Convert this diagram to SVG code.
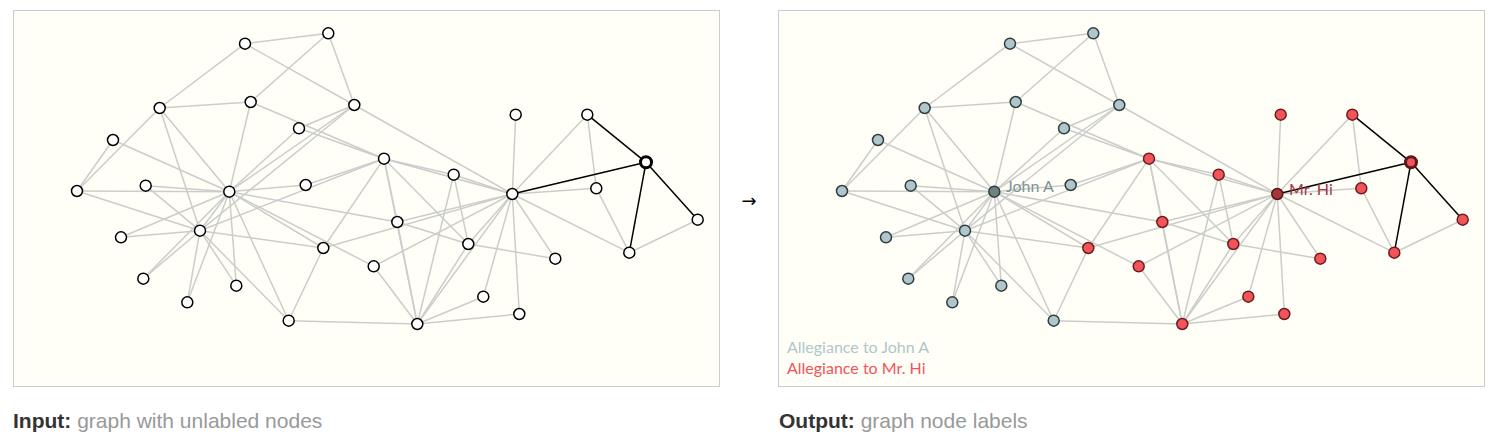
<svg xmlns="http://www.w3.org/2000/svg" width="1507" height="439" viewBox="0 0 1507 439">
<style>
.bg{fill:#ffffff}
.panel{fill:#fffff8;stroke:#cccccc;stroke-width:1}
.edges line{stroke:#cccccc;stroke-width:1.5}
.edges line.hl{stroke:#000000;stroke-width:1.5}
.in circle{fill:#ffffff;stroke:#000000;stroke-width:1.5}
.in.sel circle{stroke-width:3}
.blue circle{fill:#b0c6ca;stroke:#2e3d3f;stroke-width:1.5}
.red circle{fill:#f2545a;stroke:#6a1c1f;stroke-width:1.5}
.blue.lead circle{fill:#6e8283;stroke:#2e3d3f}
.red.lead circle{fill:#a3363a;stroke:#5a1518}
.red.sel circle{stroke:#5a1a1c;stroke-width:3}
.lbl{font-family:Lato,"Open Sans",sans-serif;font-size:16px}
.cap{font-family:"Liberation Sans",Arial,sans-serif;font-size:21px}
.capb{font-weight:bold;fill:#333333}
.capt{fill:#999999}
</style>
<rect class="bg" x="0" y="0" width="1507" height="439"/>
<rect class="panel" x="13.5" y="10.5" width="706" height="376"/>
<rect class="panel" x="778.5" y="10.5" width="706" height="376"/>

<g id="input-graph">
<g id="connectors-input" class="edges">
<line x1="512.3" y1="194" x2="417.3" y2="324"/>
<line x1="512.3" y1="194" x2="384" y2="158.7"/>
<line x1="512.3" y1="194" x2="468.3" y2="244"/>
<line x1="512.3" y1="194" x2="587.3" y2="114.7"/>
<line x1="512.3" y1="194" x2="629.3" y2="252.7"/>
<line x1="512.3" y1="194" x2="453.7" y2="174.7"/>
<line x1="512.3" y1="194" x2="323.3" y2="248"/>
<line x1="512.3" y1="194" x2="596.3" y2="188.3"/>
<line x1="512.3" y1="194" x2="515.7" y2="114.7"/>
<line x1="512.3" y1="194" x2="555.3" y2="258.7"/>
<line x1="512.3" y1="194" x2="397.3" y2="222"/>
<line x1="512.3" y1="194" x2="483.3" y2="296.7"/>
<line x1="512.3" y1="194" x2="373.7" y2="266.3"/>
<line x1="512.3" y1="194" x2="519.3" y2="314"/>
<line x1="512.3" y1="194" x2="354.3" y2="105"/>
<line x1="417.3" y1="324" x2="384" y2="158.7"/>
<line x1="417.3" y1="324" x2="468.3" y2="244"/>
<line x1="417.3" y1="324" x2="453.7" y2="174.7"/>
<line x1="417.3" y1="324" x2="397.3" y2="222"/>
<line x1="417.3" y1="324" x2="483.3" y2="296.7"/>
<line x1="417.3" y1="324" x2="373.7" y2="266.3"/>
<line x1="417.3" y1="324" x2="519.3" y2="314"/>
<line x1="417.3" y1="324" x2="288.7" y2="320.7"/>
<line x1="384" y1="158.7" x2="468.3" y2="244"/>
<line x1="384" y1="158.7" x2="453.7" y2="174.7"/>
<line x1="384" y1="158.7" x2="323.3" y2="248"/>
<line x1="384" y1="158.7" x2="305.7" y2="185"/>
<line x1="384" y1="158.7" x2="397.3" y2="222"/>
<line x1="384" y1="158.7" x2="250.7" y2="102"/>
<line x1="384" y1="158.7" x2="299" y2="128.3"/>
<line x1="384" y1="158.7" x2="200" y2="230.7"/>
<line x1="468.3" y1="244" x2="453.7" y2="174.7"/>
<line x1="468.3" y1="244" x2="555.3" y2="258.7"/>
<line x1="468.3" y1="244" x2="397.3" y2="222"/>
<line x1="587.3" y1="114.7" x2="596.3" y2="188.3"/>
<line x1="629.3" y1="252.7" x2="596.3" y2="188.3"/>
<line x1="629.3" y1="252.7" x2="697.7" y2="219.7"/>
<line x1="323.3" y1="248" x2="288.7" y2="320.7"/>
<line x1="323.3" y1="248" x2="200" y2="230.7"/>
<line x1="323.3" y1="248" x2="229.3" y2="191.7"/>
<line x1="305.7" y1="185" x2="229.3" y2="191.7"/>
<line x1="397.3" y1="222" x2="229.3" y2="191.7"/>
<line x1="121" y1="237.3" x2="200" y2="230.7"/>
<line x1="121" y1="237.3" x2="229.3" y2="191.7"/>
<line x1="143.3" y1="278.7" x2="200" y2="230.7"/>
<line x1="143.3" y1="278.7" x2="229.3" y2="191.7"/>
<line x1="187.3" y1="302.3" x2="200" y2="230.7"/>
<line x1="187.3" y1="302.3" x2="229.3" y2="191.7"/>
<line x1="373.7" y1="266.3" x2="229.3" y2="191.7"/>
<line x1="236.3" y1="285.7" x2="200" y2="230.7"/>
<line x1="236.3" y1="285.7" x2="229.3" y2="191.7"/>
<line x1="145.7" y1="185.7" x2="200" y2="230.7"/>
<line x1="145.7" y1="185.7" x2="229.3" y2="191.7"/>
<line x1="159.7" y1="108" x2="245" y2="43.7"/>
<line x1="159.7" y1="108" x2="250.7" y2="102"/>
<line x1="159.7" y1="108" x2="77" y2="191"/>
<line x1="159.7" y1="108" x2="200" y2="230.7"/>
<line x1="159.7" y1="108" x2="229.3" y2="191.7"/>
<line x1="328.3" y1="33.3" x2="245" y2="43.7"/>
<line x1="328.3" y1="33.3" x2="250.7" y2="102"/>
<line x1="328.3" y1="33.3" x2="354.3" y2="105"/>
<line x1="245" y1="43.7" x2="354.3" y2="105"/>
<line x1="113" y1="140" x2="77" y2="191"/>
<line x1="113" y1="140" x2="229.3" y2="191.7"/>
<line x1="250.7" y1="102" x2="229.3" y2="191.7"/>
<line x1="299" y1="128.3" x2="354.3" y2="105"/>
<line x1="299" y1="128.3" x2="229.3" y2="191.7"/>
<line x1="77" y1="191" x2="200" y2="230.7"/>
<line x1="77" y1="191" x2="229.3" y2="191.7"/>
<line x1="288.7" y1="320.7" x2="200" y2="230.7"/>
<line x1="288.7" y1="320.7" x2="229.3" y2="191.7"/>
<line x1="354.3" y1="105" x2="200" y2="230.7"/>
<line x1="354.3" y1="105" x2="229.3" y2="191.7"/>
<line x1="200" y1="230.7" x2="229.3" y2="191.7"/>
<line class="hl" x1="512.3" y1="194" x2="646" y2="162.3"/>
<line class="hl" x1="587.3" y1="114.7" x2="646" y2="162.3"/>
<line class="hl" x1="629.3" y1="252.7" x2="646" y2="162.3"/>
<line class="hl" x1="646" y1="162.3" x2="697.7" y2="219.7"/>
</g>
<g id="in-n0" class="in"><circle cx="512.3" cy="194" r="5.5"/></g>
<g id="in-n1" class="in"><circle cx="417.3" cy="324" r="5.5"/></g>
<g id="in-n2" class="in"><circle cx="384" cy="158.7" r="5.5"/></g>
<g id="in-n3" class="in"><circle cx="468.3" cy="244" r="5.5"/></g>
<g id="in-n4" class="in"><circle cx="587.3" cy="114.7" r="5.5"/></g>
<g id="in-n5" class="in"><circle cx="629.3" cy="252.7" r="5.5"/></g>
<g id="in-n6" class="in sel"><circle cx="646" cy="162.3" r="5.5"/></g>
<g id="in-n7" class="in"><circle cx="453.7" cy="174.7" r="5.5"/></g>
<g id="in-n8" class="in"><circle cx="323.3" cy="248" r="5.5"/></g>
<g id="in-n9" class="in"><circle cx="305.7" cy="185" r="5.5"/></g>
<g id="in-n10" class="in"><circle cx="596.3" cy="188.3" r="5.5"/></g>
<g id="in-n11" class="in"><circle cx="515.7" cy="114.7" r="5.5"/></g>
<g id="in-n12" class="in"><circle cx="555.3" cy="258.7" r="5.5"/></g>
<g id="in-n13" class="in"><circle cx="397.3" cy="222" r="5.5"/></g>
<g id="in-n14" class="in"><circle cx="121" cy="237.3" r="5.5"/></g>
<g id="in-n15" class="in"><circle cx="143.3" cy="278.7" r="5.5"/></g>
<g id="in-n16" class="in"><circle cx="697.7" cy="219.7" r="5.5"/></g>
<g id="in-n17" class="in"><circle cx="483.3" cy="296.7" r="5.5"/></g>
<g id="in-n18" class="in"><circle cx="187.3" cy="302.3" r="5.5"/></g>
<g id="in-n19" class="in"><circle cx="373.7" cy="266.3" r="5.5"/></g>
<g id="in-n20" class="in"><circle cx="236.3" cy="285.7" r="5.5"/></g>
<g id="in-n21" class="in"><circle cx="519.3" cy="314" r="5.5"/></g>
<g id="in-n22" class="in"><circle cx="145.7" cy="185.7" r="5.5"/></g>
<g id="in-n23" class="in"><circle cx="159.7" cy="108" r="5.5"/></g>
<g id="in-n24" class="in"><circle cx="328.3" cy="33.3" r="5.5"/></g>
<g id="in-n25" class="in"><circle cx="245" cy="43.7" r="5.5"/></g>
<g id="in-n26" class="in"><circle cx="113" cy="140" r="5.5"/></g>
<g id="in-n27" class="in"><circle cx="250.7" cy="102" r="5.5"/></g>
<g id="in-n28" class="in"><circle cx="299" cy="128.3" r="5.5"/></g>
<g id="in-n29" class="in"><circle cx="77" cy="191" r="5.5"/></g>
<g id="in-n30" class="in"><circle cx="288.7" cy="320.7" r="5.5"/></g>
<g id="in-n31" class="in"><circle cx="354.3" cy="105" r="5.5"/></g>
<g id="in-n32" class="in"><circle cx="200" cy="230.7" r="5.5"/></g>
<g id="in-n33" class="in"><circle cx="229.3" cy="191.7" r="5.5"/></g>
</g>

<g id="output-graph" transform="translate(765,0)">
<g id="connectors-output" class="edges">
<line x1="512.3" y1="194" x2="417.3" y2="324"/>
<line x1="512.3" y1="194" x2="384" y2="158.7"/>
<line x1="512.3" y1="194" x2="468.3" y2="244"/>
<line x1="512.3" y1="194" x2="587.3" y2="114.7"/>
<line x1="512.3" y1="194" x2="629.3" y2="252.7"/>
<line x1="512.3" y1="194" x2="453.7" y2="174.7"/>
<line x1="512.3" y1="194" x2="323.3" y2="248"/>
<line x1="512.3" y1="194" x2="596.3" y2="188.3"/>
<line x1="512.3" y1="194" x2="515.7" y2="114.7"/>
<line x1="512.3" y1="194" x2="555.3" y2="258.7"/>
<line x1="512.3" y1="194" x2="397.3" y2="222"/>
<line x1="512.3" y1="194" x2="483.3" y2="296.7"/>
<line x1="512.3" y1="194" x2="373.7" y2="266.3"/>
<line x1="512.3" y1="194" x2="519.3" y2="314"/>
<line x1="512.3" y1="194" x2="354.3" y2="105"/>
<line x1="417.3" y1="324" x2="384" y2="158.7"/>
<line x1="417.3" y1="324" x2="468.3" y2="244"/>
<line x1="417.3" y1="324" x2="453.7" y2="174.7"/>
<line x1="417.3" y1="324" x2="397.3" y2="222"/>
<line x1="417.3" y1="324" x2="483.3" y2="296.7"/>
<line x1="417.3" y1="324" x2="373.7" y2="266.3"/>
<line x1="417.3" y1="324" x2="519.3" y2="314"/>
<line x1="417.3" y1="324" x2="288.7" y2="320.7"/>
<line x1="384" y1="158.7" x2="468.3" y2="244"/>
<line x1="384" y1="158.7" x2="453.7" y2="174.7"/>
<line x1="384" y1="158.7" x2="323.3" y2="248"/>
<line x1="384" y1="158.7" x2="305.7" y2="185"/>
<line x1="384" y1="158.7" x2="397.3" y2="222"/>
<line x1="384" y1="158.7" x2="250.7" y2="102"/>
<line x1="384" y1="158.7" x2="299" y2="128.3"/>
<line x1="384" y1="158.7" x2="200" y2="230.7"/>
<line x1="468.3" y1="244" x2="453.7" y2="174.7"/>
<line x1="468.3" y1="244" x2="555.3" y2="258.7"/>
<line x1="468.3" y1="244" x2="397.3" y2="222"/>
<line x1="587.3" y1="114.7" x2="596.3" y2="188.3"/>
<line x1="629.3" y1="252.7" x2="596.3" y2="188.3"/>
<line x1="629.3" y1="252.7" x2="697.7" y2="219.7"/>
<line x1="323.3" y1="248" x2="288.7" y2="320.7"/>
<line x1="323.3" y1="248" x2="200" y2="230.7"/>
<line x1="323.3" y1="248" x2="229.3" y2="191.7"/>
<line x1="305.7" y1="185" x2="229.3" y2="191.7"/>
<line x1="397.3" y1="222" x2="229.3" y2="191.7"/>
<line x1="121" y1="237.3" x2="200" y2="230.7"/>
<line x1="121" y1="237.3" x2="229.3" y2="191.7"/>
<line x1="143.3" y1="278.7" x2="200" y2="230.7"/>
<line x1="143.3" y1="278.7" x2="229.3" y2="191.7"/>
<line x1="187.3" y1="302.3" x2="200" y2="230.7"/>
<line x1="187.3" y1="302.3" x2="229.3" y2="191.7"/>
<line x1="373.7" y1="266.3" x2="229.3" y2="191.7"/>
<line x1="236.3" y1="285.7" x2="200" y2="230.7"/>
<line x1="236.3" y1="285.7" x2="229.3" y2="191.7"/>
<line x1="145.7" y1="185.7" x2="200" y2="230.7"/>
<line x1="145.7" y1="185.7" x2="229.3" y2="191.7"/>
<line x1="159.7" y1="108" x2="245" y2="43.7"/>
<line x1="159.7" y1="108" x2="250.7" y2="102"/>
<line x1="159.7" y1="108" x2="77" y2="191"/>
<line x1="159.7" y1="108" x2="200" y2="230.7"/>
<line x1="159.7" y1="108" x2="229.3" y2="191.7"/>
<line x1="328.3" y1="33.3" x2="245" y2="43.7"/>
<line x1="328.3" y1="33.3" x2="250.7" y2="102"/>
<line x1="328.3" y1="33.3" x2="354.3" y2="105"/>
<line x1="245" y1="43.7" x2="354.3" y2="105"/>
<line x1="113" y1="140" x2="77" y2="191"/>
<line x1="113" y1="140" x2="229.3" y2="191.7"/>
<line x1="250.7" y1="102" x2="229.3" y2="191.7"/>
<line x1="299" y1="128.3" x2="354.3" y2="105"/>
<line x1="299" y1="128.3" x2="229.3" y2="191.7"/>
<line x1="77" y1="191" x2="200" y2="230.7"/>
<line x1="77" y1="191" x2="229.3" y2="191.7"/>
<line x1="288.7" y1="320.7" x2="200" y2="230.7"/>
<line x1="288.7" y1="320.7" x2="229.3" y2="191.7"/>
<line x1="354.3" y1="105" x2="200" y2="230.7"/>
<line x1="354.3" y1="105" x2="229.3" y2="191.7"/>
<line x1="200" y1="230.7" x2="229.3" y2="191.7"/>
<line class="hl" x1="512.3" y1="194" x2="646" y2="162.3"/>
<line class="hl" x1="587.3" y1="114.7" x2="646" y2="162.3"/>
<line class="hl" x1="629.3" y1="252.7" x2="646" y2="162.3"/>
<line class="hl" x1="646" y1="162.3" x2="697.7" y2="219.7"/>
</g>
<g id="out-n0" class="red lead"><circle cx="512.3" cy="194" r="5.5"/></g>
<g id="out-n1" class="red"><circle cx="417.3" cy="324" r="5.5"/></g>
<g id="out-n2" class="red"><circle cx="384" cy="158.7" r="5.5"/></g>
<g id="out-n3" class="red"><circle cx="468.3" cy="244" r="5.5"/></g>
<g id="out-n4" class="red"><circle cx="587.3" cy="114.7" r="5.5"/></g>
<g id="out-n5" class="red"><circle cx="629.3" cy="252.7" r="5.5"/></g>
<g id="out-n6" class="red sel"><circle cx="646" cy="162.3" r="5.5"/></g>
<g id="out-n7" class="red"><circle cx="453.7" cy="174.7" r="5.5"/></g>
<g id="out-n8" class="red"><circle cx="323.3" cy="248" r="5.5"/></g>
<g id="out-n9" class="blue"><circle cx="305.7" cy="185" r="5.5"/></g>
<g id="out-n10" class="red"><circle cx="596.3" cy="188.3" r="5.5"/></g>
<g id="out-n11" class="red"><circle cx="515.7" cy="114.7" r="5.5"/></g>
<g id="out-n12" class="red"><circle cx="555.3" cy="258.7" r="5.5"/></g>
<g id="out-n13" class="red"><circle cx="397.3" cy="222" r="5.5"/></g>
<g id="out-n14" class="blue"><circle cx="121" cy="237.3" r="5.5"/></g>
<g id="out-n15" class="blue"><circle cx="143.3" cy="278.7" r="5.5"/></g>
<g id="out-n16" class="red"><circle cx="697.7" cy="219.7" r="5.5"/></g>
<g id="out-n17" class="red"><circle cx="483.3" cy="296.7" r="5.5"/></g>
<g id="out-n18" class="blue"><circle cx="187.3" cy="302.3" r="5.5"/></g>
<g id="out-n19" class="red"><circle cx="373.7" cy="266.3" r="5.5"/></g>
<g id="out-n20" class="blue"><circle cx="236.3" cy="285.7" r="5.5"/></g>
<g id="out-n21" class="red"><circle cx="519.3" cy="314" r="5.5"/></g>
<g id="out-n22" class="blue"><circle cx="145.7" cy="185.7" r="5.5"/></g>
<g id="out-n23" class="blue"><circle cx="159.7" cy="108" r="5.5"/></g>
<g id="out-n24" class="blue"><circle cx="328.3" cy="33.3" r="5.5"/></g>
<g id="out-n25" class="blue"><circle cx="245" cy="43.7" r="5.5"/></g>
<g id="out-n26" class="blue"><circle cx="113" cy="140" r="5.5"/></g>
<g id="out-n27" class="blue"><circle cx="250.7" cy="102" r="5.5"/></g>
<g id="out-n28" class="blue"><circle cx="299" cy="128.3" r="5.5"/></g>
<g id="out-n29" class="blue"><circle cx="77" cy="191" r="5.5"/></g>
<g id="out-n30" class="blue"><circle cx="288.7" cy="320.7" r="5.5"/></g>
<g id="out-n31" class="blue"><circle cx="354.3" cy="105" r="5.5"/></g>
<g id="out-n32" class="blue"><circle cx="200" cy="230.7" r="5.5"/></g>
<g id="out-n33" class="blue lead"><circle cx="229.3" cy="191.7" r="5.5"/></g>
<text class="lbl" x="241" y="192" fill="#7d9295">John A</text>
<text class="lbl" x="524" y="194.5" fill="#a03a44">Mr. Hi</text>
</g>

<g id="legend">
<text class="lbl" x="787" y="352.5" fill="#b0c6ca">Allegiance to John A</text>
<text class="lbl" x="787" y="373.5" fill="#f2545a">Allegiance to Mr. Hi</text>
</g>

<text x="749" y="207" text-anchor="middle" font-family="DejaVu Sans, sans-serif" font-size="18" fill="#000000">→</text>

<text class="cap" x="13" y="428"><tspan class="capb">Input:</tspan><tspan class="capt"> graph with unlabled nodes</tspan></text>
<text class="cap" x="779" y="428"><tspan class="capb">Output:</tspan><tspan class="capt"> graph node labels</tspan></text>
</svg>
